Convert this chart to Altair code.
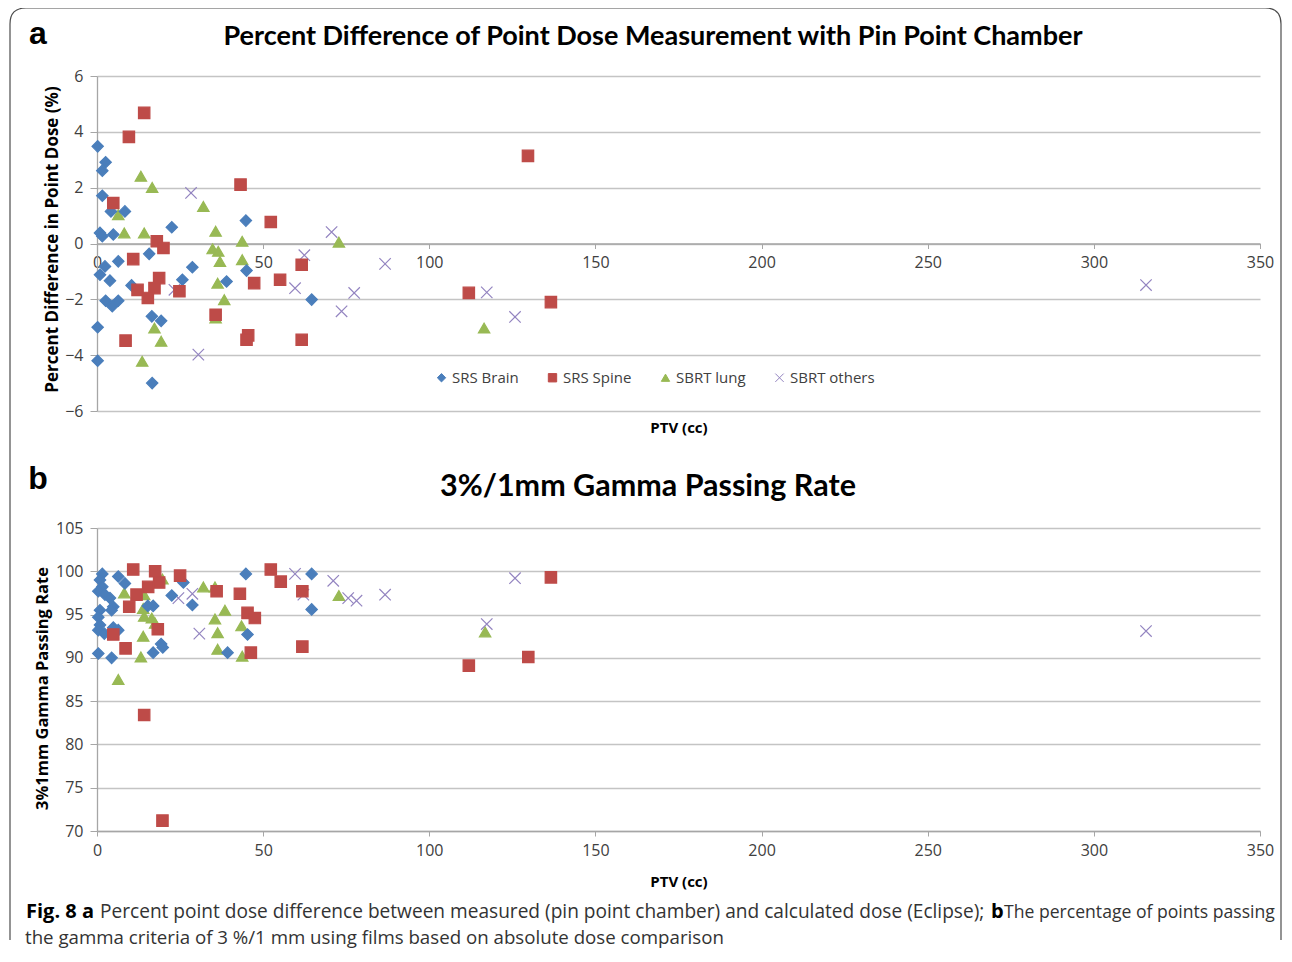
import altair as alt
import pandas as pd

SERIES = ["SRS Brain", "SRS Spine", "SBRT lung", "SBRT others"]
COLORS = ["#4A7EBB", "#BE4B48", "#98B954", "#9384C0"]
X_PATH = "M-1,-1L1,1M-1,1L1,-1"
SHAPES = ["diamond", "square", "triangle-up", X_PATH]

# ---- Panel a: percent difference of point dose ----
brain_a_x = [0.2, 2.6, 1.6, 1.6, 4.2, 8.4, 0.9, 1.6, 4.9, 22.5, 15.7, 6.4, 2.4, 0.9, 3.9,
             44.8, 45.0, 28.7, 25.7, 39.0, 10.4, 2.6, 4.6, 6.4, 16.5, 19.3, 0.2, 0.2, 16.6, 64.6]
brain_a_y = [3.48, 2.91, 2.61, 1.71, 1.15, 1.15, 0.38, 0.26, 0.32, 0.58, -0.37, -0.64, -0.82, -1.12, -1.33,
             0.82, -0.97, -0.85, -1.30, -1.36, -1.50, -2.05, -2.25, -2.05, -2.61, -2.77, -3.0, -4.2, -5.0, -2.01]
spine_a_x = [14.2, 9.6, 4.9, 43.2, 52.3, 18.0, 20.0, 10.9, 61.6, 18.7, 12.2, 17.3, 15.3, 24.8, 47.3,
             55.1, 35.7, 8.6, 45.5, 45.0, 61.6, 129.7, 111.9, 136.6]
spine_a_y = [4.68, 3.82, 1.45, 2.11, 0.77, 0.08, -0.16, -0.56, -0.76, -1.24, -1.66, -1.60, -1.95, -1.71, -1.42,
             -1.30, -2.55, -3.48, -3.29, -3.45, -3.45, 3.14, -1.77, -2.10]
lung_a_x = [13.2, 16.6, 6.4, 8.2, 14.2, 32.0, 35.7, 43.7, 34.8, 36.5, 37.0, 43.7, 72.8, 36.3, 38.3,
            35.7, 17.3, 19.3, 13.6, 116.5]
lung_a_y = [2.41, 2.01, 1.03, 0.38, 0.38, 1.33, 0.44, 0.08, -0.19, -0.28, -0.64, -0.58, 0.05, -1.42, -2.01,
            -2.67, -3.03, -3.50, -4.22, -3.03]
other_a_x = [28.3, 70.6, 62.4, 23.3, 59.6, 77.4, 73.6, 30.5, 86.7, 117.3, 125.8, 315.7]
other_a_y = [1.81, 0.41, -0.42, -1.66, -1.60, -1.77, -2.43, -3.98, -0.73, -1.75, -2.63, -1.49]

# ---- Panel b: 3%/1mm gamma passing rate ----
brain_b_x = [1.6, 0.9, 1.6, 0.4, 2.4, 3.9, 4.9, 0.9, 4.4, 0.4, 0.9, 0.4, 2.2, 4.9, 6.4, 6.4,
             8.4, 0.4, 4.4, 16.9, 19.3, 19.8, 16.9, 15.3, 22.5, 26.0, 28.7, 44.8, 64.6, 64.6, 45.3, 39.3]
brain_b_y = [99.7, 99.0, 98.2, 97.7, 97.3, 96.9, 95.9, 95.5, 95.5, 94.7, 93.8, 93.2, 92.8, 93.5, 93.2, 99.4,
             98.6, 90.5, 90.0, 90.6, 91.6, 91.2, 96.0, 96.0, 97.2, 98.7, 96.1, 99.7, 99.7, 95.6, 92.7, 90.6]
spine_b_x = [10.9, 17.5, 25.0, 52.3, 55.3, 15.4, 18.7, 11.9, 36.0, 43.0, 61.8, 9.7, 45.3, 47.5, 18.3,
             4.9, 8.6, 46.3, 61.8, 14.2, 19.7, 111.9, 129.8, 136.6]
spine_b_y = [100.2, 100.0, 99.5, 100.2, 98.8, 98.2, 98.7, 97.3, 97.7, 97.4, 97.7, 95.9, 95.2, 94.6, 93.3,
             92.7, 91.1, 90.6, 91.3, 83.4, 71.2, 89.1, 90.1, 99.3]
lung_b_x = [8.2, 19.7, 14.2, 32.0, 35.5, 72.8, 13.9, 14.2, 16.5, 17.5, 38.5, 35.5, 36.3, 43.5, 13.9,
            13.2, 36.3, 43.7, 6.4, 116.8]
lung_b_y = [97.5, 99.1, 97.3, 98.2, 98.2, 97.2, 95.7, 94.8, 94.6, 94.0, 95.5, 94.5, 92.9, 93.7, 92.5,
            90.1, 91.0, 90.2, 87.5, 93.0]
other_b_x = [59.6, 71.1, 24.5, 28.7, 62.1, 75.6, 78.1, 30.8, 86.7, 125.8, 117.3, 315.7]
other_b_y = [99.7, 98.9, 96.9, 97.4, 97.3, 96.9, 96.6, 92.8, 97.3, 99.2, 93.9, 93.1]

X_TICKS = [0, 50, 100, 150, 200, 250, 300, 350]
A_TICKS = [-6, -4, -2, 0, 2, 4, 6]
B_TICKS = [70, 75, 80, 85, 90, 95, 100, 105]

TITLE_A = "Percent Difference of Point Dose Measurement with Pin Point Chamber"
TITLE_B = "3%/1mm Gamma Passing Rate"
YTITLE_A = "Percent Difference in Point Dose (%)"
YTITLE_B = "3%1mm Gamma Passing Rate"
XTITLE = "PTV (cc)"
CAP_BOLD1 = "Fig. 8 a"
CAP_TEXT1 = "Percent point dose difference between measured (pin point chamber) and calculated dose (Eclipse);"
CAP_BOLD2 = "b"
CAP_TEXT2 = "The percentage of points passing"
CAP_LINE2 = "the gamma criteria of 3 %/1 mm using films based on absolute dose comparison"

FONT = "Open Sans"
W = 1163


def long_frame(xs_list, ys_list):
    rows = []
    for s, xs, ys in zip(SERIES, xs_list, ys_list):
        for x, y in zip(xs, ys):
            rows.append({"series": s, "ptv": x, "val": y})
    return pd.DataFrame(rows)


df_a = long_frame([brain_a_x, spine_a_x, lung_a_x, other_a_x], [brain_a_y, spine_a_y, lung_a_y, other_a_y])
df_b = long_frame([brain_b_x, spine_b_x, lung_b_x, other_b_x], [brain_b_y, spine_b_y, lung_b_y, other_b_y])


def text_layer(text, x, y, size, weight="bold", font=FONT, color="#000000", align="center", baseline="middle"):
    return alt.Chart(alt.Data(values=[{"t": text}])).mark_text(
        font=font, fontSize=size, fontWeight=weight, color=color, align=align, baseline=baseline
    ).encode(text="t:N", x=alt.value(x), y=alt.value(y))


def panel(df, height, ydom, yticks, ytitle, ytitle_x, ytitle_y, ytitle_size, xoffset, xtitle_y,
          legend_x, legend_y, col_pad, title, title_x, title_y, title_size, letter, letter_y):
    leg = alt.Legend(orient="none", legendX=legend_x, legendY=legend_y, direction="horizontal",
                     title=None, labelFont=FONT, labelFontSize=15, labelColor="#404040",
                     symbolSize=70, columnPadding=col_pad, labelOffset=3, symbolStrokeWidth=1)
    pts = alt.Chart(df).mark_point(filled=True, size=130, opacity=1, strokeWidth=1.2).encode(
        x=alt.X("ptv:Q", scale=alt.Scale(domain=[0, 350], nice=False),
                axis=alt.Axis(values=X_TICKS, title=XTITLE, offset=xoffset, grid=False, labelFlush=False,
                              domainColor="#a6a6a6", domainWidth=1.3, tickColor="#a6a6a6", tickSize=5,
                              labelFont=FONT, labelFontSize=16, labelColor="#404040", labelPadding=6,
                              titleFont=FONT, titleFontSize=15, titleFontWeight="bold", titleColor="#000000",
                              titleY=xtitle_y, titleBaseline="middle")),
        y=alt.Y("val:Q", scale=alt.Scale(domain=ydom, nice=False, zero=False),
                axis=alt.Axis(values=yticks, title=ytitle, grid=True, gridColor="#c4c4c4", gridWidth=1.3,
                              labelFlush=False,
                              domainColor="#a6a6a6", domainWidth=1.3, tickColor="#a6a6a6", tickSize=7,
                              labelFont=FONT, labelFontSize=16, labelColor="#404040", labelPadding=7,
                              titleFont=FONT, titleFontSize=ytitle_size, titleFontWeight="bold",
                              titleColor="#000000", titleX=ytitle_x, titleY=ytitle_y, titleAngle=270,
                              titleAlign="center", titleBaseline="middle")),
        color=alt.Color("series:N", scale=alt.Scale(domain=SERIES, range=COLORS), legend=leg),
        stroke=alt.Stroke("series:N", scale=alt.Scale(domain=SERIES, range=COLORS), legend=leg),
        shape=alt.Shape("series:N", scale=alt.Scale(domain=SERIES, range=SHAPES), legend=leg),
        order=alt.Order("series:N"),
    )
    ttl = text_layer(title, title_x, title_y, title_size, font="Lato")
    let = text_layer(letter, -59, letter_y, 32, font="Liberation Sans")
    return alt.layer(pts, ttl, let).properties(width=W, height=height)


pa = panel(df_a, 335, [-6, 6], A_TICKS, YTITLE_A, -45, 163, 17, -167.5, 184,
           337, 294, 26, TITLE_A, 556, -39, 27, "a", -42)
pb = panel(df_b, 303, [70, 105], B_TICKS, YTITLE_B, -55, 160, 16.5, 0, 50,
           357, 280, 20, TITLE_B, 551, -41, 30.5, "b", -49)

FRAME = "M0,932V16Q0,0,16,0H1255Q1271,0,1271,16V932"
frame = alt.Chart(alt.Data(values=[{"k": 1}])).mark_point(
    shape=FRAME, size=4, filled=False, stroke="#4d4d4d", strokeWidth=1.2, opacity=1,
    strokeJoin="round", strokeCap="butt"
).encode(x=alt.value(-87), y=alt.value(-940))

cap = alt.layer(
    frame,
    text_layer(CAP_BOLD1, -71, -30, 20, align="left", baseline="alphabetic"),
    text_layer(CAP_TEXT1, 3, -30, 19.1, weight="normal", color="#333333", align="left", baseline="alphabetic"),
    text_layer(CAP_BOLD2, 894, -30, 20, align="left", baseline="alphabetic"),
    text_layer(CAP_TEXT2, 907, -30, 17.6, weight="normal", color="#333333", align="left",
               baseline="alphabetic"),
    text_layer(CAP_LINE2, -72, -4, 18.7, weight="normal", color="#333333", align="left", baseline="alphabetic"),
).properties(width=W, height=1)

chart = alt.vconcat(pa, pb, cap, spacing=117, bounds="flush").properties(
    padding={"left": 1, "top": -1, "right": 0, "bottom": -1},
    background="white",
).configure_view(stroke=None)

chart.save("out.html", embed_options={"renderer": "svg", "actions": False})
